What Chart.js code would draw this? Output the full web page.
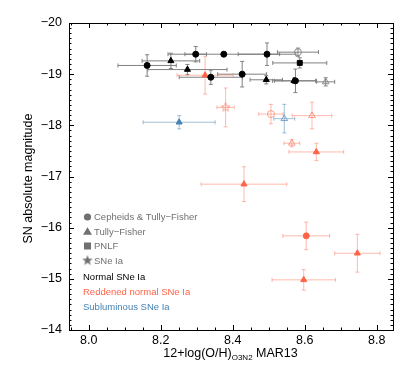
<!DOCTYPE html>
<html>
<head>
<meta charset="utf-8">
<script src="https://cdn.jsdelivr.net/npm/chart.js@4.4.1/dist/chart.umd.min.js"></script>
<style>
  html, body { margin: 0; padding: 0; background: #fff; }
  #wrap { width: 415px; height: 374px; }
</style>
</head>
<body>
<div id="wrap"><canvas id="c" width="415" height="374"></canvas></div>
<script>
// rows: [metallicity, magnitude, xerr, yerr]
var normalCircles = [
    [8.162, -19.17, 0.081, 0.21],
    [8.297, -19.39, 0.030, 0.15],
    [8.375, -19.39, 0.155, 0.04],
    [8.495, -19.39, 0.080, 0.22],
    [8.339, -18.94, 0.088, 0.14],
    [8.426, -19.00, 0.068, 0.25],
    [8.574, -18.87, 0.058, 0.23]
];
var normalTriangles = [
    [8.228, -19.26, 0.080, 0.15],
    [8.274, -19.09, 0.110, 0.10],
    [8.493, -18.89, 0.045, 0.08],
    [8.570, -18.87, 0.060, 0.05]
];
var normalSquares = [
    [8.586, -19.22, 0.075, 0.10]
];
var normalOpenCircles = [
    [8.581, -19.43, 0.057, 0.08]
];
var normalOpenTriangles = [
    [8.658, -18.85, 0.025, 0.08]
];
var reddenedTriangles = [
    [8.323, -18.98, 0.078, 0.37],
    [8.632, -17.48, 0.076, 0.17],
    [8.431, -16.85, 0.119, 0.34],
    [8.746, -15.50, 0.063, 0.37],
    [8.597, -14.98, 0.088, 0.20]
];
var reddenedCircles = [
    [8.604, -15.84, 0.065, 0.27]
];
var reddenedOpenStars = [
    [8.380, -18.35, 0.024, 0.38]
];
var reddenedOpenCircles = [
    [8.506, -18.22, 0.034, 0.19]
];
var reddenedOpenTriangles = [
    [8.620, -18.19, 0.055, 0.26],
    [8.564, -17.65, 0.022, 0.07]
];
var sublumTriangles = [
    [8.251, -18.06, 0.100, 0.13]
];
var sublumOpenTriangles = [
    [8.543, -18.13, 0.029, 0.28]
];

var xTicks = [8.0, 8.2, 8.4, 8.6, 8.8];
var yTicks = [-20, -19, -18, -17, -16, -15, -14];

var legendShapes = ["Cepheids & Tully\u2212Fisher", "Tully\u2212Fisher", "PNLF", "SNe Ia"];
var legendGroups = ["Normal SNe Ia", "Reddened normal SNe Ia", "Subluminous SNe Ia"];

var FONT = "'Liberation Sans', Arial, Helvetica, sans-serif";
var RED = "#ff6347";
var RED_LIGHT = "rgba(255, 99, 71, 0.45)";
var BLUE = "#4682b4";
var BLUE_LIGHT = "rgba(70, 130, 180, 0.5)";
var GREY_BAR = "#808080";

function starCanvas(color, r, fill) {
    var s = document.createElement('canvas');
    var size = Math.ceil(r * 2 + 3);
    s.width = size; s.height = size;
    var c = s.getContext('2d');
    var cx = size / 2, cy = size / 2;
    c.beginPath();
    for (var i = 0; i < 10; i++) {
        var rr = i % 2 === 0 ? r : r * 0.42;
        var a = -Math.PI / 2 + i * Math.PI / 5;
        var px = cx + rr * Math.cos(a), py = cy + rr * Math.sin(a);
        if (i === 0) c.moveTo(px, py); else c.lineTo(px, py);
    }
    c.closePath();
    if (fill) { c.fillStyle = color; c.fill(); }
    else { c.strokeStyle = color; c.lineWidth = 1; c.stroke(); }
    return s;
}

function ds(rows, style, fill, edge, bar, radius) {
    return {
        data: rows.map(function (r) { return { x: r[0], y: r[1], xe: r[2], ye: r[3] }; }),
        pointStyle: style,
        pointRadius: radius || 3,
        pointBackgroundColor: fill,
        pointBorderColor: edge,
        pointBorderWidth: 1,
        barColor: bar
    };
}

var errorBars = {
    id: 'errorBars',
    beforeDatasetsDraw: function (chart) {
        var ctx = chart.ctx, xs = chart.scales.x, ys = chart.scales.y;
        var cap = 2;
        ctx.save();
        ctx.lineWidth = 1;
        chart.data.datasets.forEach(function (d) {
            ctx.strokeStyle = d.barColor;
            d.data.forEach(function (p) {
                var x0 = xs.getPixelForValue(p.x - p.xe), x1 = xs.getPixelForValue(p.x + p.xe);
                var y0 = ys.getPixelForValue(p.y - p.ye), y1 = ys.getPixelForValue(p.y + p.ye);
                var px = xs.getPixelForValue(p.x), py = ys.getPixelForValue(p.y);
                ctx.beginPath();
                ctx.moveTo(x0, py); ctx.lineTo(x1, py);
                ctx.moveTo(x0, py - cap); ctx.lineTo(x0, py + cap);
                ctx.moveTo(x1, py - cap); ctx.lineTo(x1, py + cap);
                ctx.moveTo(px, y0); ctx.lineTo(px, y1);
                ctx.moveTo(px - cap, y0); ctx.lineTo(px + cap, y0);
                ctx.moveTo(px - cap, y1); ctx.lineTo(px + cap, y1);
                ctx.stroke();
            });
        });
        ctx.restore();
    }
};

var frame = {
    id: 'frame',
    afterDraw: function (chart) {
        var ctx = chart.ctx, a = chart.chartArea, xs = chart.scales.x, ys = chart.scales.y;
        ctx.save();
        ctx.strokeStyle = '#000';
        ctx.lineWidth = 1;
        ctx.strokeRect(Math.round(a.left) + 0.5, Math.round(a.top) + 0.5,
            Math.round(a.right - a.left), Math.round(a.bottom - a.top));
        ctx.beginPath();
        // x ticks, bottom and top, pointing in
        for (var v = 7.95; v <= 8.8001; v += 0.05) {
            var major = Math.abs(v * 5 - Math.round(v * 5)) < 1e-6;
            var len = major ? 5 : 2.5;
            var px = Math.round(xs.getPixelForValue(v)) + 0.5;
            ctx.moveTo(px, a.bottom); ctx.lineTo(px, a.bottom - len);
            ctx.moveTo(px, a.top); ctx.lineTo(px, a.top + len);
        }
        // y ticks, left and right
        for (var k = 0; k <= 60; k++) {
            var yv = -20 + k * 0.1;
            var len2 = k % 10 === 0 ? 5 : 2.5;
            var py = Math.round(ys.getPixelForValue(yv)) + 0.5;
            ctx.moveTo(a.left, py); ctx.lineTo(a.left + len2, py);
            ctx.moveTo(a.right, py); ctx.lineTo(a.right - len2, py);
        }
        ctx.stroke();

        // axis titles
        ctx.fillStyle = '#000';
        ctx.textBaseline = 'middle';
        ctx.font = '12.5px ' + FONT;
        var t1 = '12+log(O/H)', t2 = 'O3N2', t3 = ' MAR13';
        var w1 = ctx.measureText(t1).width, w3 = ctx.measureText(t3).width;
        ctx.font = '8px ' + FONT;
        var w2 = ctx.measureText(t2).width;
        var cx = (a.left + a.right) / 2 - 0.5;
        var sx = cx - (w1 + w2 + w3) / 2, ty = 354;
        ctx.font = '12.5px ' + FONT;
        ctx.textAlign = 'left';
        ctx.fillText(t1, sx, ty);
        ctx.font = '8px ' + FONT;
        ctx.fillText(t2, sx + w1, ty + 3.5);
        ctx.font = '12.5px ' + FONT;
        ctx.fillText(t3, sx + w1 + w2, ty);

        ctx.save();
        ctx.translate(29, (a.top + a.bottom) / 2 + 2);
        ctx.rotate(-Math.PI / 2);
        ctx.textAlign = 'center';
        ctx.fillText('SN absolute magnitude', 0, 0);
        ctx.restore();

        // legend
        var lg = '#707070';
        ctx.font = '9.5px ' + FONT;
        ctx.textAlign = 'left';
        var ly = [217, 231.5, 246, 260.5];
        legendShapes.forEach(function (t, i) {
            var mx = 87.5, my = ly[i];
            ctx.fillStyle = lg;
            ctx.beginPath();
            if (i === 0) { ctx.arc(mx, my, 3.6, 0, Math.PI * 2); ctx.fill(); }
            if (i === 1) { ctx.moveTo(mx, my - 4.2); ctx.lineTo(mx + 4.5, my + 3.3); ctx.lineTo(mx - 4.5, my + 3.3); ctx.closePath(); ctx.fill(); }
            if (i === 2) { ctx.fillRect(mx - 3.5, my - 3.5, 7, 7); }
            if (i === 3) { ctx.drawImage(starCanvas(lg, 5.5, true), mx - 7, my - 7); }
            ctx.fillText(t, 94, my + 0.5);
        });
        var gc = ['#000', RED, BLUE];
        var gy = [277.5, 292.5, 307];
        legendGroups.forEach(function (t, i) {
            ctx.fillStyle = gc[i];
            ctx.fillText(t, 83, gy[i]);
        });
        ctx.restore();
    }
};

var NONE = 'rgba(0,0,0,0)';
var datasets = [
    ds(normalCircles, 'circle', '#000', '#000', GREY_BAR),
    ds(normalTriangles, 'triangle', '#000', '#000', GREY_BAR, 3.5),
    ds(normalSquares, 'rect', '#000', '#000', GREY_BAR, 3.5),
    ds(normalOpenCircles, 'circle', NONE, '#8a8a8a', GREY_BAR, 3.5),
    ds(normalOpenTriangles, 'triangle', NONE, '#8a8a8a', GREY_BAR, 3.8),
    ds(reddenedTriangles, 'triangle', RED, RED, RED_LIGHT, 3.5),
    ds(reddenedCircles, 'circle', RED, RED, RED_LIGHT),
    ds(reddenedOpenStars, starCanvas('rgba(255,99,71,0.6)', 4.5, false), NONE, RED_LIGHT, RED_LIGHT),
    ds(reddenedOpenCircles, 'circle', NONE, 'rgba(255,99,71,0.6)', RED_LIGHT, 3.5),
    ds(reddenedOpenTriangles, 'triangle', NONE, 'rgba(255,99,71,0.6)', RED_LIGHT, 3.8),
    ds(sublumTriangles, 'triangle', BLUE, BLUE, BLUE_LIGHT, 3.5),
    ds(sublumOpenTriangles, 'triangle', NONE, 'rgba(70,130,180,0.7)', BLUE_LIGHT, 3.8)
];

var chart = new Chart(document.getElementById('c').getContext('2d'), {
    type: 'scatter',
    data: { datasets: datasets },
    options: {
        responsive: false,
        animation: false,
        layout: { padding: { top: 23, right: 22, left: 0, bottom: 0 } },
        plugins: { legend: { display: false }, tooltip: { enabled: false } },
        scales: {
            x: {
                type: 'linear',
                min: 7.945,
                max: 8.845,
                grid: { display: false, drawTicks: false },
                border: { display: false },
                ticks: {
                    padding: 3,
                    color: '#000',
                    font: { family: FONT, size: 12.5 },
                    maxRotation: 0,
                    callback: function (v) { return Number(v).toFixed(1); }
                },
                afterBuildTicks: function (s) { s.ticks = xTicks.map(function (v) { return { value: v }; }); },
                afterFit: function (s) { s.height = 44; }
            },
            y: {
                type: 'linear',
                reverse: true,
                min: -20,
                max: -14,
                grid: { display: false, drawTicks: false },
                border: { display: false },
                ticks: {
                    padding: 7,
                    color: '#000',
                    font: { family: FONT, size: 12.5 },
                    callback: function (v) { return String(v).replace('-', '\u2212'); }
                },
                afterBuildTicks: function (s) { s.ticks = yTicks.map(function (v) { return { value: v }; }); },
                afterFit: function (s) { s.width = 69; }
            }
        }
    },
    plugins: [errorBars, frame]
});
</script>
</body>
</html>
